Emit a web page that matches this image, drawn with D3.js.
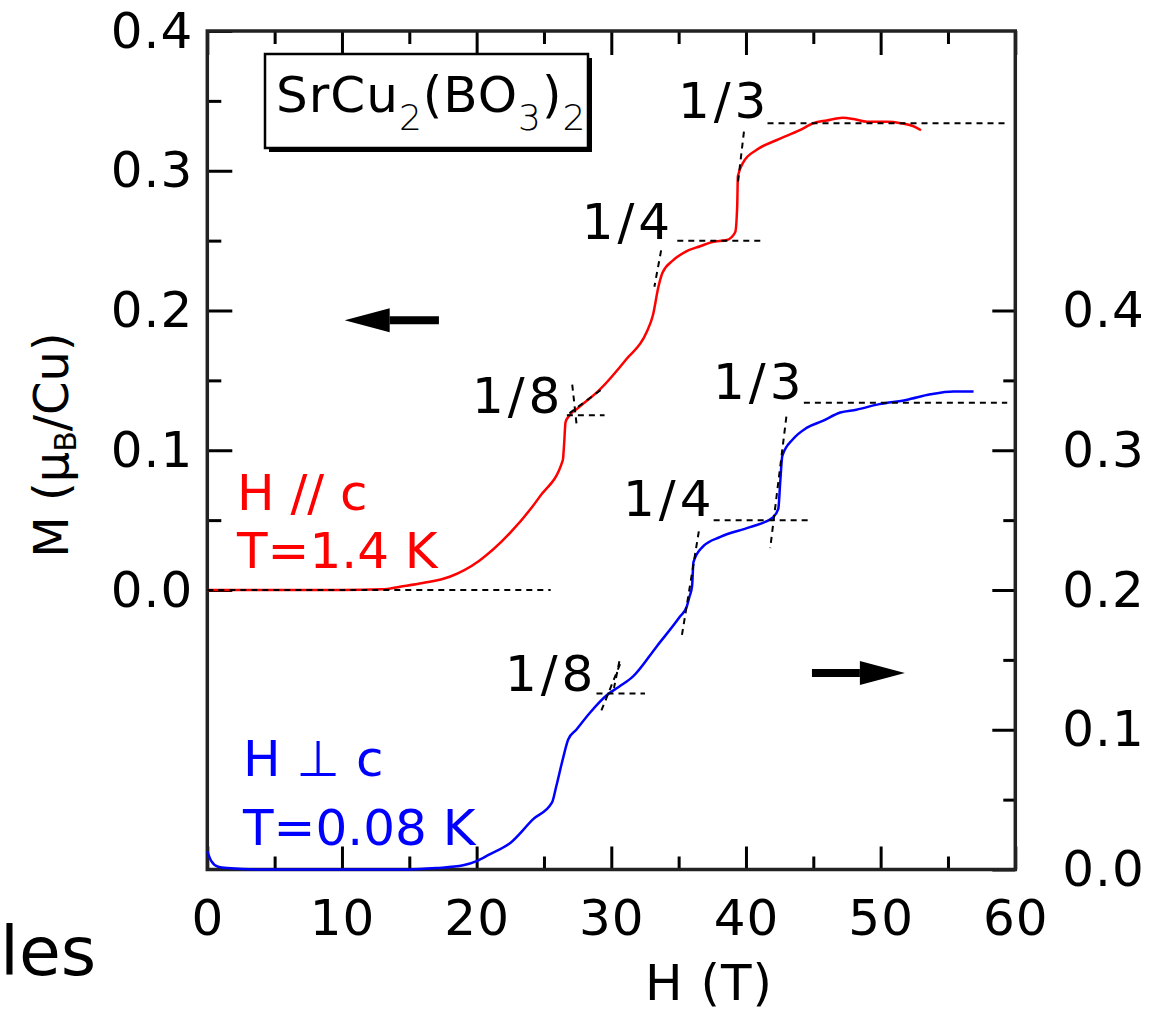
<!DOCTYPE html>
<html><head><meta charset="utf-8">
<script src="https://cdn.jsdelivr.net/npm/d3@7"></script>
<style>
html,body{margin:0;padding:0;background:#fff;}
text{font-family:"DejaVu Sans",Verdana,sans-serif;}
</style></head>
<body>
<svg id="chart" width="1173" height="1011"></svg>
<script>
// ---- data ----
// H // c, T = 1.4 K (left axis, muB/Cu)
const redH = [0,5,10,13,14.3,16,18,20.2,22.5,24.7,26.4,26.5,26.6,26.9,27.5,29.1,31.1,32.6,33.1,33.5,33.8,34.6,35.5,36.6,37.5,38.6,39.2,39.35,39.4,39.8,40.8,42.3,44,45,46,47.2,48,49,50.5,51.5,52.4,53];
const redM = [0,0,0,0.0005,0.0024,0.005,0.0095,0.021,0.041,0.067,0.093,0.105,0.12,0.125,0.13,0.143,0.165,0.184,0.197,0.217,0.227,0.236,0.242,0.246,0.249,0.2505,0.256,0.275,0.296,0.306,0.315,0.322,0.329,0.334,0.336,0.338,0.337,0.335,0.335,0.334,0.332,0.329];
// H perp c, T = 0.08 K (right axis)
const blueH = [0,0.3,0.8,1.5,4,15,17,19,20,21,22.5,24.2,25.6,25.9,26.4,26.8,27.4,28.4,29.7,30.6,31.6,33.4,35.1,35.6,35.8,36,36.1,36.8,38.1,40.3,42,42.4,42.55,42.7,43.5,44.5,45.7,47,48.2,49.9,51.9,53.7,55.4,56.9];
const blueM = [0.013,0.006,0.002,0.001,0,0,0.001,0.003,0.006,0.011,0.019,0.036,0.048,0.059,0.079,0.093,0.1,0.112,0.125,0.131,0.138,0.16,0.181,0.188,0.195,0.203,0.22,0.231,0.238,0.245,0.252,0.258,0.278,0.296,0.308,0.316,0.321,0.327,0.329,0.333,0.336,0.34,0.342,0.342];
// plateau fractions
const fracLabels = ["1/8","1/4","1/3"];
const fracValues = [0.125,0.25,1/3];
// guide segments [H1,M1,H2,M2]
const redGuides = [[0,0,25.5,0],[26.7,0.125,29.5,0.125],[27.1,0.147,27.45,0.116],[29.2,0.143,26.9,0.1266],[34.9,0.25,41.3,0.25],[33.7,0.243,33.2,0.217],[41.6,0.334,59.4,0.334],[39.85,0.328,39.4,0.291]];
const blueGuides = [[28.9,0.126,32.5,0.126],[30.65,0.147,29.15,0.111],[30.6,0.149,30.2,0.13],[37.6,0.25,44.7,0.25],[36.5,0.242,35.2,0.165],[44.3,0.334,59.4,0.334],[43.0,0.324,41.8,0.23]];
// axis ticks
const xMajor = [0,10,20,30,40,50,60];
const xMinor = [5,15,25,35,45,55];
const yLeftMajor = [0,0.1,0.2,0.3,0.4];
const yLeftMinor = [0.05,0.15,0.25,0.35];
const yRightMajor = [0,0.1,0.2,0.3,0.4];
const yRightMinor = [0.05,0.15,0.25,0.35];

// ---- layout ----
const svg = d3.select("#chart");
const X0=207.3, X1=1015.3, Y0=869.5, Y1=31;
const x = d3.scaleLinear().domain([0,60]).range([X0,X1]);
const yL = d3.scaleLinear().domain([-0.2,0.4]).range([Y0,Y1]);
const yR = d3.scaleLinear().domain([0,0.6]).range([Y0,Y1]);
const FS = 50;
const fmt = d3.format(".1f");

function styleAxis(g){
  g.select(".domain").remove();
  g.selectAll(".tick line").attr("stroke","#000").attr("stroke-width",3);
  g.selectAll(".tick text").attr("font-size",FS).attr("fill","#000")
    .attr("font-family","DejaVu Sans").style("letter-spacing","1px");
}
// bottom
svg.append("g").attr("transform",`translate(0,${Y0})`)
  .call(d3.axisBottom(x).tickValues(xMajor).tickSize(-23).tickPadding(30).tickFormat(d3.format("d"))).call(styleAxis);
svg.append("g").attr("transform",`translate(0,${Y0})`)
  .call(d3.axisBottom(x).tickValues(xMinor).tickSize(-13).tickFormat("")).call(styleAxis);
// top
svg.append("g").attr("transform",`translate(0,${Y1})`)
  .call(d3.axisTop(x).tickValues(xMajor).tickSize(-24).tickFormat("")).call(styleAxis);
svg.append("g").attr("transform",`translate(0,${Y1})`)
  .call(d3.axisTop(x).tickValues(xMinor).tickSize(-13).tickFormat("")).call(styleAxis);
// left
svg.append("g").attr("transform",`translate(${X0},0)`)
  .call(d3.axisLeft(yL).tickValues(yLeftMajor).tickSize(-25).tickPadding(14).tickFormat(fmt)).call(styleAxis);
svg.append("g").attr("transform",`translate(${X0},0)`)
  .call(d3.axisLeft(yL).tickValues(yLeftMinor).tickSize(-14).tickFormat("")).call(styleAxis);
// right
svg.append("g").attr("transform",`translate(${X1},0)`)
  .call(d3.axisRight(yR).tickValues(yRightMajor).tickSize(-23).tickPadding(47).tickFormat(fmt)).call(styleAxis);
svg.append("g").attr("transform",`translate(${X1},0)`)
  .call(d3.axisRight(yR).tickValues(yRightMinor).tickSize(-12).tickFormat("")).call(styleAxis);

// frame
svg.append("rect").attr("x",X0).attr("y",Y1).attr("width",X1-X0).attr("height",Y0-Y1)
  .attr("fill","none").attr("stroke","#222").attr("stroke-width",3.5);

// curves
const redLine = d3.line().curve(d3.curveMonotoneX).x(d=>x(d[0])).y(d=>yL(d[1]));
const blueLine = d3.line().curve(d3.curveMonotoneX).x(d=>x(d[0])).y(d=>yR(d[1]));
svg.append("path").datum(redH.map((h,i)=>[h,redM[i]])).attr("d",redLine)
  .attr("fill","none").attr("stroke","#ff0000").attr("stroke-width",2.5);
svg.append("path").datum(blueH.map((h,i)=>[h,blueM[i]])).attr("d",blueLine)
  .attr("fill","none").attr("stroke","#0000ff").attr("stroke-width",2.5);

// guides
function guides(arr, ys){
  svg.append("g").selectAll("line").data(arr).join("line")
    .attr("x1",d=>x(d[0])).attr("y1",d=>ys(d[1])).attr("x2",d=>x(d[2])).attr("y2",d=>ys(d[3]))
    .attr("stroke","#000").attr("stroke-width",2).attr("stroke-dasharray","6,5");
}
guides(redGuides,yL);
guides(blueGuides,yR);

// fraction labels (H position of text start, offset above plateau)
const redLabelH = [19.65,27.8,34.95];
const blueLabelH = [22.1,30.87,37.55];
const fl = svg.append("g").attr("font-size",FS).attr("fill","#000").style("letter-spacing","4px");
fracLabels.forEach((t,i)=>{
  fl.append("text").attr("x",x(redLabelH[i])).attr("y",yL(fracValues[i])+ (i==2?-6:-2)).text(t);
  fl.append("text").attr("x",x(blueLabelH[i])).attr("y",yR(fracValues[i])+ (i==2?-5:-4)).text(t);
});

// legends
const lg = svg.append("g").attr("font-size",FS);
lg.append("text").attr("x",237).attr("y",510).attr("fill","#ff0000").text("H // c");
lg.append("text").attr("x",237).attr("y",568).attr("fill","#ff0000").text("T=1.4 K");
lg.append("text").attr("x",243).attr("y",776).attr("fill","#0000ff").text("H \u22A5 c");
lg.append("text").attr("x",243).attr("y",845).attr("fill","#0000ff").text("T=0.08 K");

// compound box
svg.append("rect").attr("x",269).attr("y",58).attr("width",323).attr("height",94).attr("fill","#000");
svg.append("rect").attr("x",265).attr("y",54).attr("width",323).attr("height",94).attr("fill","#fff")
  .attr("stroke","#000").attr("stroke-width",2.5);
const tt = svg.append("text").attr("x",276).attr("y",112).attr("font-size",FS).attr("fill","#000").style("letter-spacing","1px");
tt.append("tspan").text("SrCu");
tt.append("tspan").attr("font-size",36).attr("font-weight",300).attr("dy",18).text("2");
tt.append("tspan").attr("dy",-18).text("(BO");
tt.append("tspan").attr("font-size",36).attr("font-weight",300).attr("dy",18).text("3");
tt.append("tspan").attr("dy",-18).text(")");
tt.append("tspan").attr("font-size",36).attr("font-weight",300).attr("dy",18).text("2");

// arrows
function arrow(hTail,hTip,yv,ys){
  const xt=x(hTail), xp=x(hTip), yy=ys(yv), dir=Math.sign(xp-xt);
  const xb = xp - dir*45;
  svg.append("line").attr("x1",xt).attr("y1",yy).attr("x2",xb).attr("y2",yy)
    .attr("stroke","#000").attr("stroke-width",8);
  svg.append("path").attr("d",`M${xp},${yy}L${xb},${yy-12}L${xb},${yy+12}Z`).attr("fill","#000");
}
arrow(17.2,10.2,0.193,yL);
arrow(44.9,51.8,0.1406,yR);

// axis titles
svg.append("text").attr("x",709).attr("y",1000).attr("text-anchor","middle").attr("font-size",FS)
  .style("letter-spacing","1px").text("H (T)");
const yt = svg.append("text").attr("transform","translate(68,445) rotate(-90)").attr("text-anchor","middle").attr("font-size",48);
yt.append("tspan").text("M (\u03BC");
yt.append("tspan").attr("font-size",30).attr("dy",8).text("B");
yt.append("tspan").attr("dy",-8).text("/Cu)");

// stray slide text
svg.append("text").attr("x",0).attr("y",975).attr("font-size",68).attr("fill","#000").text("les");
</script>
</body></html>
